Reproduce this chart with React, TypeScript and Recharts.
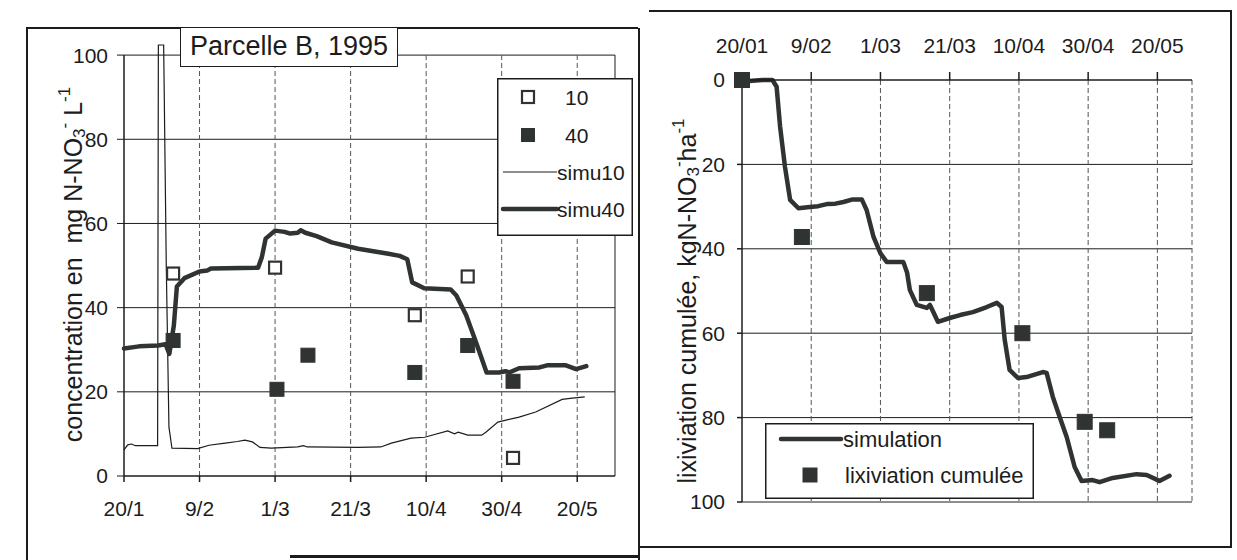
import React from 'react';
import {
  ComposedChart,
  Line,
  Scatter,
  XAxis,
  YAxis,
  ReferenceLine,
  Legend,
} from 'recharts';

// ---------- shared axis data ----------
const dayTicks = [0, 20, 40, 60, 80, 100, 120];
const leftTickLabels = ['20/1', '9/2', '1/3', '21/3', '10/4', '30/4', '20/5'];
const rightTickLabels = ['20/01', '9/02', '1/03', '21/03', '10/04', '30/04', '20/05'];
const concTicks = [0, 20, 40, 60, 80, 100];
const lixTicks = [0, 20, 40, 60, 80, 100];
const dayDomainMax = 130;
const concDomainMax = 102.4;

// ---------- left panel: concentration ----------
const obs10Days = [13, 40, 77, 91, 103];
const obs10Values = [48.1, 49.5, 38.2, 47.4, 4.3];

const obs40Days = [13, 40.5, 48.7, 77, 91, 103];
const obs40Values = [32.2, 20.6, 28.7, 24.6, 31.0, 22.5];

const simu10Days = [0, 1, 2, 3, 8.9, 9.1, 10.5, 11.2, 11.9, 12.7, 19.5, 22.5, 26.8, 30, 32, 34, 36, 39, 46, 47.5, 48.5, 62, 68, 70.8, 76, 79.6, 85.7, 87.5, 88.5, 91, 94.7, 95.8, 99, 104.6, 109, 116, 118.7, 122];
const simu10Values = [6.2, 7.4, 7.6, 7.2, 7.2, 102.4, 102.4, 49.5, 11.6, 6.6, 6.5, 7.3, 7.8, 8.2, 8.5, 8.1, 6.8, 6.6, 6.9, 7.2, 6.9, 6.8, 6.9, 7.8, 9.0, 9.2, 10.7, 10.0, 10.4, 9.7, 9.7, 10.4, 12.8, 14.0, 15.2, 18.2, 18.5, 18.8];

const simu40Days = [0, 4, 9, 11, 12, 13.2, 14, 16, 20, 22, 23, 35.5, 36.5, 37.5, 40, 42.5, 44, 46, 46.8, 48, 51, 55, 62, 66, 70, 73, 75, 76.3, 79.5, 86.5, 88, 90.6, 93.2, 96, 99.3, 101, 102, 104.6, 110, 112, 117, 119.7, 122.4];
const simu40Values = [30.3, 30.8, 31.0, 31.3, 29.0, 35.8, 45.0, 47.0, 48.6, 48.8, 49.3, 49.5, 52.0, 56.4, 58.3, 58.0, 57.6, 57.8, 58.4, 57.8, 57.0, 55.5, 54.0, 53.4, 52.8, 52.3, 51.5, 46.0, 44.6, 44.3, 42.9, 38.2, 31.8, 24.6, 24.6, 24.9, 24.6, 25.6, 25.8, 26.3, 26.3, 25.4, 26.1];

// ---------- right panel: cumulative leaching ----------
const lixObsDays = [0, 17.3, 53.4, 81, 99, 105.5];
const lixObsValues = [0, 37.2, 50.5, 60, 81, 83];

const lixSimDays = [0, 3, 6, 8.8, 10, 11, 12.4, 13.9, 16.3, 19.6, 22, 24.5, 27, 29.3, 32, 34.6, 36, 38, 40, 41.8, 44.7, 46.6, 47.7, 48.5, 50.5, 53.4, 54.3, 56.6, 60, 63, 66.7, 70.7, 73.6, 75, 75.9, 77.3, 79.7, 82.2, 86.9, 88, 89.8, 91.8, 93.8, 96.1, 98.1, 101.3, 103.3, 107.1, 114, 116.9, 120.6, 123.5];
const lixSimValues = [0.4, 0.2, 0, 0, 1.6, 11, 20.5, 28.4, 30.4, 30.1, 29.9, 29.4, 29.3, 28.9, 28.3, 28.3, 30.8, 37.2, 41.1, 43.1, 43.1, 43.1, 45.7, 49.8, 53.3, 54.0, 53.3, 57.3, 56.4, 55.7, 55.0, 53.8, 52.8, 53.8, 61.6, 68.7, 70.6, 70.4, 69.2, 69.4, 75.1, 79.9, 84.6, 91.7, 95.0, 94.8, 95.3, 94.3, 93.4, 93.6, 95.0, 93.8];

const zip = (days: number[], values: number[]) => days.map((d, i) => ({ day: d, value: values[i] }));

const obs10Data = zip(obs10Days, obs10Values);
const obs40Data = zip(obs40Days, obs40Values);
const simu10Data = zip(simu10Days, simu10Values);
const simu40Data = zip(simu40Days, simu40Values);
const lixObsData = zip(lixObsDays, lixObsValues);
const lixSimData = zip(lixSimDays, lixSimValues);

const FONT = '"Liberation Sans", Arial, Helvetica, sans-serif';
const INK = '#1c1c1c';
const MARK = '#2f3432';

const tickStyle = { fontSize: 21, fill: INK, fontFamily: FONT };

const OpenSquare = (props: any) => {
  const { cx, cy } = props;
  if (cx == null || cy == null) return <g />;
  return <rect x={cx - 6} y={cy - 6} width={12} height={12} fill="#fff" stroke={MARK} strokeWidth={2.2} />;
};
const FilledSquare = (props: any) => {
  const { cx, cy } = props;
  if (cx == null || cy == null) return <g />;
  return <rect x={cx - 7} y={cy - 7} width={14} height={14} fill={MARK} stroke={MARK} strokeWidth={1} />;
};
const FilledSquareR = (props: any) => {
  const { cx, cy } = props;
  if (cx == null || cy == null) return <g />;
  return <rect x={cx - 7.5} y={cy - 7.5} width={15} height={15} fill={MARK} stroke={MARK} strokeWidth={1} />;
};

const LeftLegend = () => (
  <svg width={136} height={158} style={{ display: 'block' }}>
    <rect x={0.75} y={0.75} width={134.5} height={156.5} fill="#fff" stroke={INK} strokeWidth={1.5} />
    <rect x={25} y={13} width={12} height={12} fill="#fff" stroke={MARK} strokeWidth={2.2} />
    <text x={68} y={19} dominantBaseline="central" fontSize={21} fontFamily={FONT} fill={INK}>10</text>
    <rect x={24} y={50} width={14} height={14} fill={MARK} />
    <text x={68} y={57} dominantBaseline="central" fontSize={21} fontFamily={FONT} fill={INK}>40</text>
    <line x1={6} y1={94} x2={60} y2={94} stroke={INK} strokeWidth={1.2} />
    <text x={60} y={94} dominantBaseline="central" fontSize={21} fontFamily={FONT} fill={INK}>simu10</text>
    <line x1={6} y1={131} x2={60} y2={131} stroke={MARK} strokeWidth={4.5} strokeLinecap="round" />
    <text x={60} y={131} dominantBaseline="central" fontSize={21} fontFamily={FONT} fill={INK}>simu40</text>
  </svg>
);

const RightLegend = () => (
  <svg width={269} height={76} style={{ display: 'block' }}>
    <rect x={0.75} y={0.75} width={267.5} height={74.5} fill="#fff" stroke={INK} strokeWidth={1.5} />
    <line x1={16} y1={16} x2={76} y2={16} stroke={MARK} strokeWidth={4.5} strokeLinecap="round" />
    <text x={78} y={16} dominantBaseline="central" fontSize={22} fontFamily={FONT} fill={INK}>simulation</text>
    <rect x={37.5} y={44.5} width={15} height={15} fill={MARK} />
    <text x={80} y={52} dominantBaseline="central" fontSize={22} fontFamily={FONT} fill={INK}>lixiviation cumulée</text>
  </svg>
);

const LeftYTitle = (props: any) => {
  const vb = props.viewBox || { x: 0, y: 45, width: 124, height: 431 };
  const cx = vb.x + 73;
  const cy = vb.y + vb.height / 2 + 4;
  return (
    <text
      x={cx}
      y={cy}
      transform={`rotate(-90, ${cx}, ${cy})`}
      textAnchor="middle"
      dominantBaseline="central"
      fontSize={25}
      fontFamily={FONT}
      fill={INK}
    >
      {'concentration en\u00A0 mg N-NO'}
      <tspan dy={6} fontSize={17}>3</tspan>
      <tspan dy={-15} fontSize={17}>-</tspan>
      <tspan dy={9}> L</tspan>
      <tspan dy={-9} fontSize={17}>-1</tspan>
    </text>
  );
};

const RightYTitle = (props: any) => {
  const vb = props.viewBox || { x: 0, y: 80, width: 105, height: 422 };
  const cx = vb.x + 50;
  const cy = vb.y + vb.height / 2 + 10;
  return (
    <text
      x={cx}
      y={cy}
      transform={`rotate(-90, ${cx}, ${cy})`}
      textAnchor="middle"
      dominantBaseline="central"
      fontSize={25}
      fontFamily={FONT}
      fill={INK}
    >
      {'lixiviation cumulée, kgN-NO'}
      <tspan dy={6} fontSize={17}>3</tspan>
      <tspan dy={-15} fontSize={17}>-</tspan>
      <tspan dy={9}>ha</tspan>
      <tspan dy={-9} fontSize={17}>-1</tspan>
    </text>
  );
};

const gridDays = dayTicks.slice(1);
const gridValues = concTicks.slice(1);

export default function App() {
  return (
    <div
      style={{
        position: 'absolute',
        left: 0,
        top: 0,
        width: 1237,
        height: 560,
        background: '#fff',
        overflow: 'hidden',
        fontFamily: FONT,
      }}
    >
      {/* panel frames */}
      <div style={{ position: 'absolute', left: 26, top: 27, width: 612, height: 1.5, background: INK }} />
      <div style={{ position: 'absolute', left: 26, top: 27, width: 1.5, height: 533, background: INK }} />
      <div style={{ position: 'absolute', left: 638, top: 28, width: 1.5, height: 532, background: INK }} />
      <div style={{ position: 'absolute', left: 649, top: 10, width: 582, height: 1.5, background: INK }} />
      <div style={{ position: 'absolute', left: 1230, top: 10, width: 1.5, height: 538, background: INK }} />
      <div style={{ position: 'absolute', left: 638, top: 546, width: 594, height: 1.5, background: INK }} />
      <div style={{ position: 'absolute', left: 290, top: 555, width: 348, height: 3, background: INK }} />

      {/* left chart */}
      <div style={{ position: 'absolute', left: 0, top: 0, width: 637, height: 560 }}>
        <ComposedChart width={637} height={560} margin={{ top: 45, right: 22, bottom: 44, left: 0 }}>
          {gridValues.map((v) => (
            <ReferenceLine key={`lh${v}`} y={v} stroke={INK} strokeWidth={1} />
          ))}
          {gridDays.map((d) => (
            <ReferenceLine
              key={`lv${d}`}
              segment={[{ x: d, y: 0 }, { x: d, y: 100 }]}
              stroke="#555"
              strokeWidth={1}
              strokeDasharray="5 3"
            />
          ))}
          <ReferenceLine segment={[{ x: dayDomainMax, y: 0 }, { x: dayDomainMax, y: 100 }]} stroke={INK} strokeWidth={1} />
          <ReferenceLine segment={[{ x: 0, y: 0 }, { x: 0, y: 100 }]} stroke={INK} strokeWidth={1.5} />
          <XAxis
            type="number"
            dataKey="day"
            domain={[0, dayDomainMax]}
            ticks={dayTicks}
            interval={0}
            tickFormatter={(v: number) => leftTickLabels[dayTicks.indexOf(v)]}
            tick={tickStyle}
            tickSize={6}
            tickMargin={19}
            height={40}
            stroke={INK}
            strokeWidth={1.5}
          />
          <YAxis
            type="number"
            dataKey="value"
            domain={[0, concDomainMax]}
            ticks={concTicks}
            interval={0}
            axisLine={false}
            tick={tickStyle}
            tickSize={7}
            tickMargin={9}
            width={124}
            stroke={INK}
            label={(p: any) => <LeftYTitle {...p} />}
          />
          <Line
            data={simu10Data}
            dataKey="value"
            type="linear"
            stroke={INK}
            strokeWidth={1.2}
            dot={false}
            activeDot={false}
            isAnimationActive={false}
          />
          <Line
            data={simu40Data}
            dataKey="value"
            type="linear"
            stroke={MARK}
            strokeWidth={4.5}
            strokeLinejoin="round"
            strokeLinecap="round"
            dot={false}
            activeDot={false}
            isAnimationActive={false}
          />
          <Scatter data={obs10Data} dataKey="value" shape={OpenSquare} isAnimationActive={false} />
          <Scatter data={obs40Data} dataKey="value" shape={FilledSquare} isAnimationActive={false} />
          <Legend
            layout="horizontal"
            verticalAlign="middle"
            align="center"
            content={() => <LeftLegend />}
            wrapperStyle={{ left: 497, top: 78, width: 136, height: 158 }}
          />
        </ComposedChart>
      </div>

      {/* title box */}
      <div
        style={{
          position: 'absolute',
          left: 180,
          top: 27,
          width: 218,
          height: 40,
          boxSizing: 'border-box',
          border: `1.5px solid ${INK}`,
          background: '#fff',
          fontSize: 27,
          lineHeight: '37px',
          textAlign: 'center',
          color: INK,
          fontFamily: FONT,
          whiteSpace: 'nowrap',
        }}
      >
        Parcelle B, 1995
      </div>

      {/* right chart */}
      <div style={{ position: 'absolute', left: 637, top: 0, width: 600, height: 560 }}>
        <ComposedChart width={600} height={560} margin={{ top: 40, right: 45, bottom: 58, left: 0 }}>
          {gridValues.map((v) => (
            <ReferenceLine key={`rh${v}`} y={v} stroke={INK} strokeWidth={1} />
          ))}
          {gridDays.map((d) => (
            <ReferenceLine
              key={`rv${d}`}
              segment={[{ x: d, y: 0 }, { x: d, y: 100 }]}
              stroke="#555"
              strokeWidth={1}
              strokeDasharray="5 3"
            />
          ))}
          <ReferenceLine
            segment={[{ x: dayDomainMax, y: 0 }, { x: dayDomainMax, y: 100 }]}
            stroke="#555"
            strokeWidth={1}
            strokeDasharray="5 3"
          />
          <XAxis
            type="number"
            dataKey="day"
            orientation="top"
            domain={[0, dayDomainMax]}
            ticks={dayTicks}
            interval={0}
            tickFormatter={(v: number) => rightTickLabels[dayTicks.indexOf(v)]}
            tick={tickStyle}
            tickSize={8}
            tickMargin={19}
            height={40}
            stroke={INK}
            strokeWidth={1.5}
          />
          <YAxis
            type="number"
            dataKey="value"
            reversed
            domain={[0, 100]}
            ticks={lixTicks}
            interval={0}
            tick={tickStyle}
            tickSize={5}
            tickMargin={12}
            width={105}
            stroke={INK}
            strokeWidth={1.5}
            label={(p: any) => <RightYTitle {...p} />}
          />
          <Line
            data={lixSimData}
            dataKey="value"
            type="linear"
            stroke={MARK}
            strokeWidth={4.5}
            strokeLinejoin="round"
            strokeLinecap="round"
            dot={false}
            activeDot={false}
            isAnimationActive={false}
          />
          <Scatter data={lixObsData} dataKey="value" shape={FilledSquareR} isAnimationActive={false} />
          <Legend
            layout="horizontal"
            verticalAlign="middle"
            align="center"
            content={() => <RightLegend />}
            wrapperStyle={{ left: 128, top: 423, width: 269, height: 76 }}
          />
        </ComposedChart>
      </div>
    </div>
  );
}
